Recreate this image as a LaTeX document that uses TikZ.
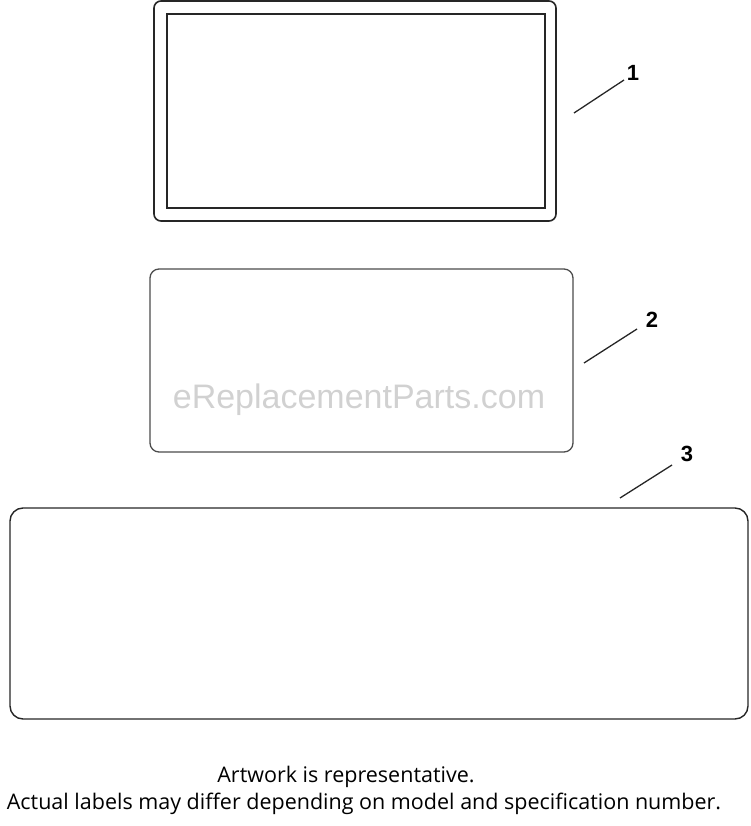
\documentclass[tikz,border=0pt]{standalone}
\usepackage{fontspec}
\setmainfont{Open Sans}
\newfontfamily\numfont{Liberation Sans}

\begin{document}
\begin{tikzpicture}[x=1pt, y=-1pt,
	label box/.style={draw=black!85, line width=1.6pt, inner sep=0pt, rounded corners=7pt},
	callout/.style={font=\numfont\bfseries\fontsize{22}{22}\selectfont, inner sep=0pt},
	leader/.style={draw=black!85, line width=1.3pt}]
	\useasboundingbox (0,0) rectangle (750,826);
	
	% the three labels
	\node[label box, minimum width=402pt, minimum height=220pt] (L1) at (355,111) {};
	\node[label box, line width=1.4pt, rounded corners=0pt, minimum width=378pt, minimum height=194pt] (L1in) at (356,111) {};
	\node[label box, draw=black!70, line width=1.3pt, rounded corners=9pt, minimum width=423pt, minimum height=183pt] (L2) at (361.5,360.5) {};
	\node[label box, line width=1.4pt, rounded corners=13pt, minimum width=738pt, minimum height=211pt] (L3) at (379,613.5) {};
	
	% watermark
	\node[text=black!18, font=\numfont\fontsize{34}{34}\selectfont] (wm) at (359,400) {eReplacementParts.com};
	
	% callout numbers
	\node[callout] (n1) at (633,73) {1};
	\node[callout] (n2) at (652,320) {2};
	\node[callout] (n3) at (687,454) {3};
	\coordinate (t1) at (574,113);
	\coordinate (t2) at (584,363);
	\coordinate (t3) at (620,498);
	\path[leader]
	(t1) edge (624,80)
	(t2) edge (637,329)
	(t3) edge (672,465);
	
	% note
	\node[font=\fontsize{21.5}{21.5}\selectfont] (note1) at (346,777) {Artwork is representative.};
	\node[font=\fontsize{21.5}{21.5}\selectfont] (note2) at (364,804) {Actual labels may differ depending on model and specification number.};
\end{tikzpicture}
\end{document}
